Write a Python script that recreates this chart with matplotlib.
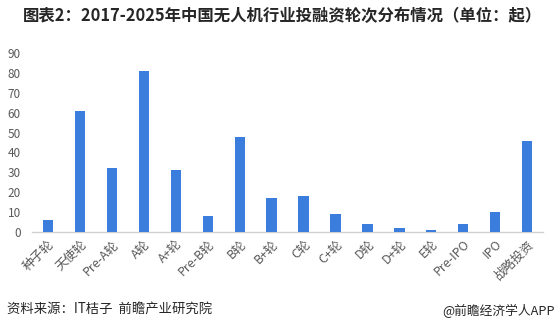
import matplotlib
matplotlib.use('Agg')
import matplotlib.pyplot as plt

plt.rcParams['font.family'] = ['Noto Sans CJK SC', 'DejaVu Sans']

rounds = ['种子轮', '天使轮', 'Pre-A轮', 'A轮', 'A+轮', 'Pre-B轮', 'B轮', 'B+轮',
          'C轮', 'C+轮', 'D轮', 'D+轮', 'E轮', 'Pre-IPO', 'IPO', '战略投资']
counts = [6, 61, 32, 81, 31, 8, 48, 17, 18, 9, 4, 2, 1, 4, 10, 46]
yticks = [0, 10, 20, 30, 40, 50, 60, 70, 80, 90]

fig = plt.figure(figsize=(5.6, 3.31), dpi=100)
ax = fig.add_axes([0.057, 0.299, 0.913, 0.541])

x = list(range(len(rounds)))
ax.bar(x, counts, width=0.32, color='#3b7ddd', zorder=3)

ax.set_xlim(-0.5, len(rounds) - 0.5)
ax.set_ylim(0, 90)
ax.set_yticks(yticks)
ax.set_xticks(x)
ax.set_xticklabels(rounds, rotation=45, ha='right', rotation_mode='anchor')
ax.tick_params(axis='both', length=0, colors='#595959', labelsize=8.5)
ax.tick_params(axis='x', pad=4, labelsize=9)
ax.tick_params(axis='y', pad=8)

for s in ['top', 'right', 'left']:
    ax.spines[s].set_visible(False)
ax.spines['bottom'].set_color('#d0d0d0')
ax.spines['bottom'].set_linewidth(1.0)

fig.text(0.505, 0.953, '图表2：2017-2025年中国无人机行业投融资轮次分布情况（单位：起）',
         ha='center', va='center', fontsize=11.8, fontweight='bold', color='#262626')
fig.text(0.012, 0.063, '资料来源：IT桔子  前瞻产业研究院', ha='left', va='center',
         fontsize=9.6, color='#262626')
fig.text(0.99, 0.06, '@前瞻经济学人APP', ha='right', va='center',
         fontsize=9.2, color='#262626')

fig.savefig('out.png', dpi=100)
